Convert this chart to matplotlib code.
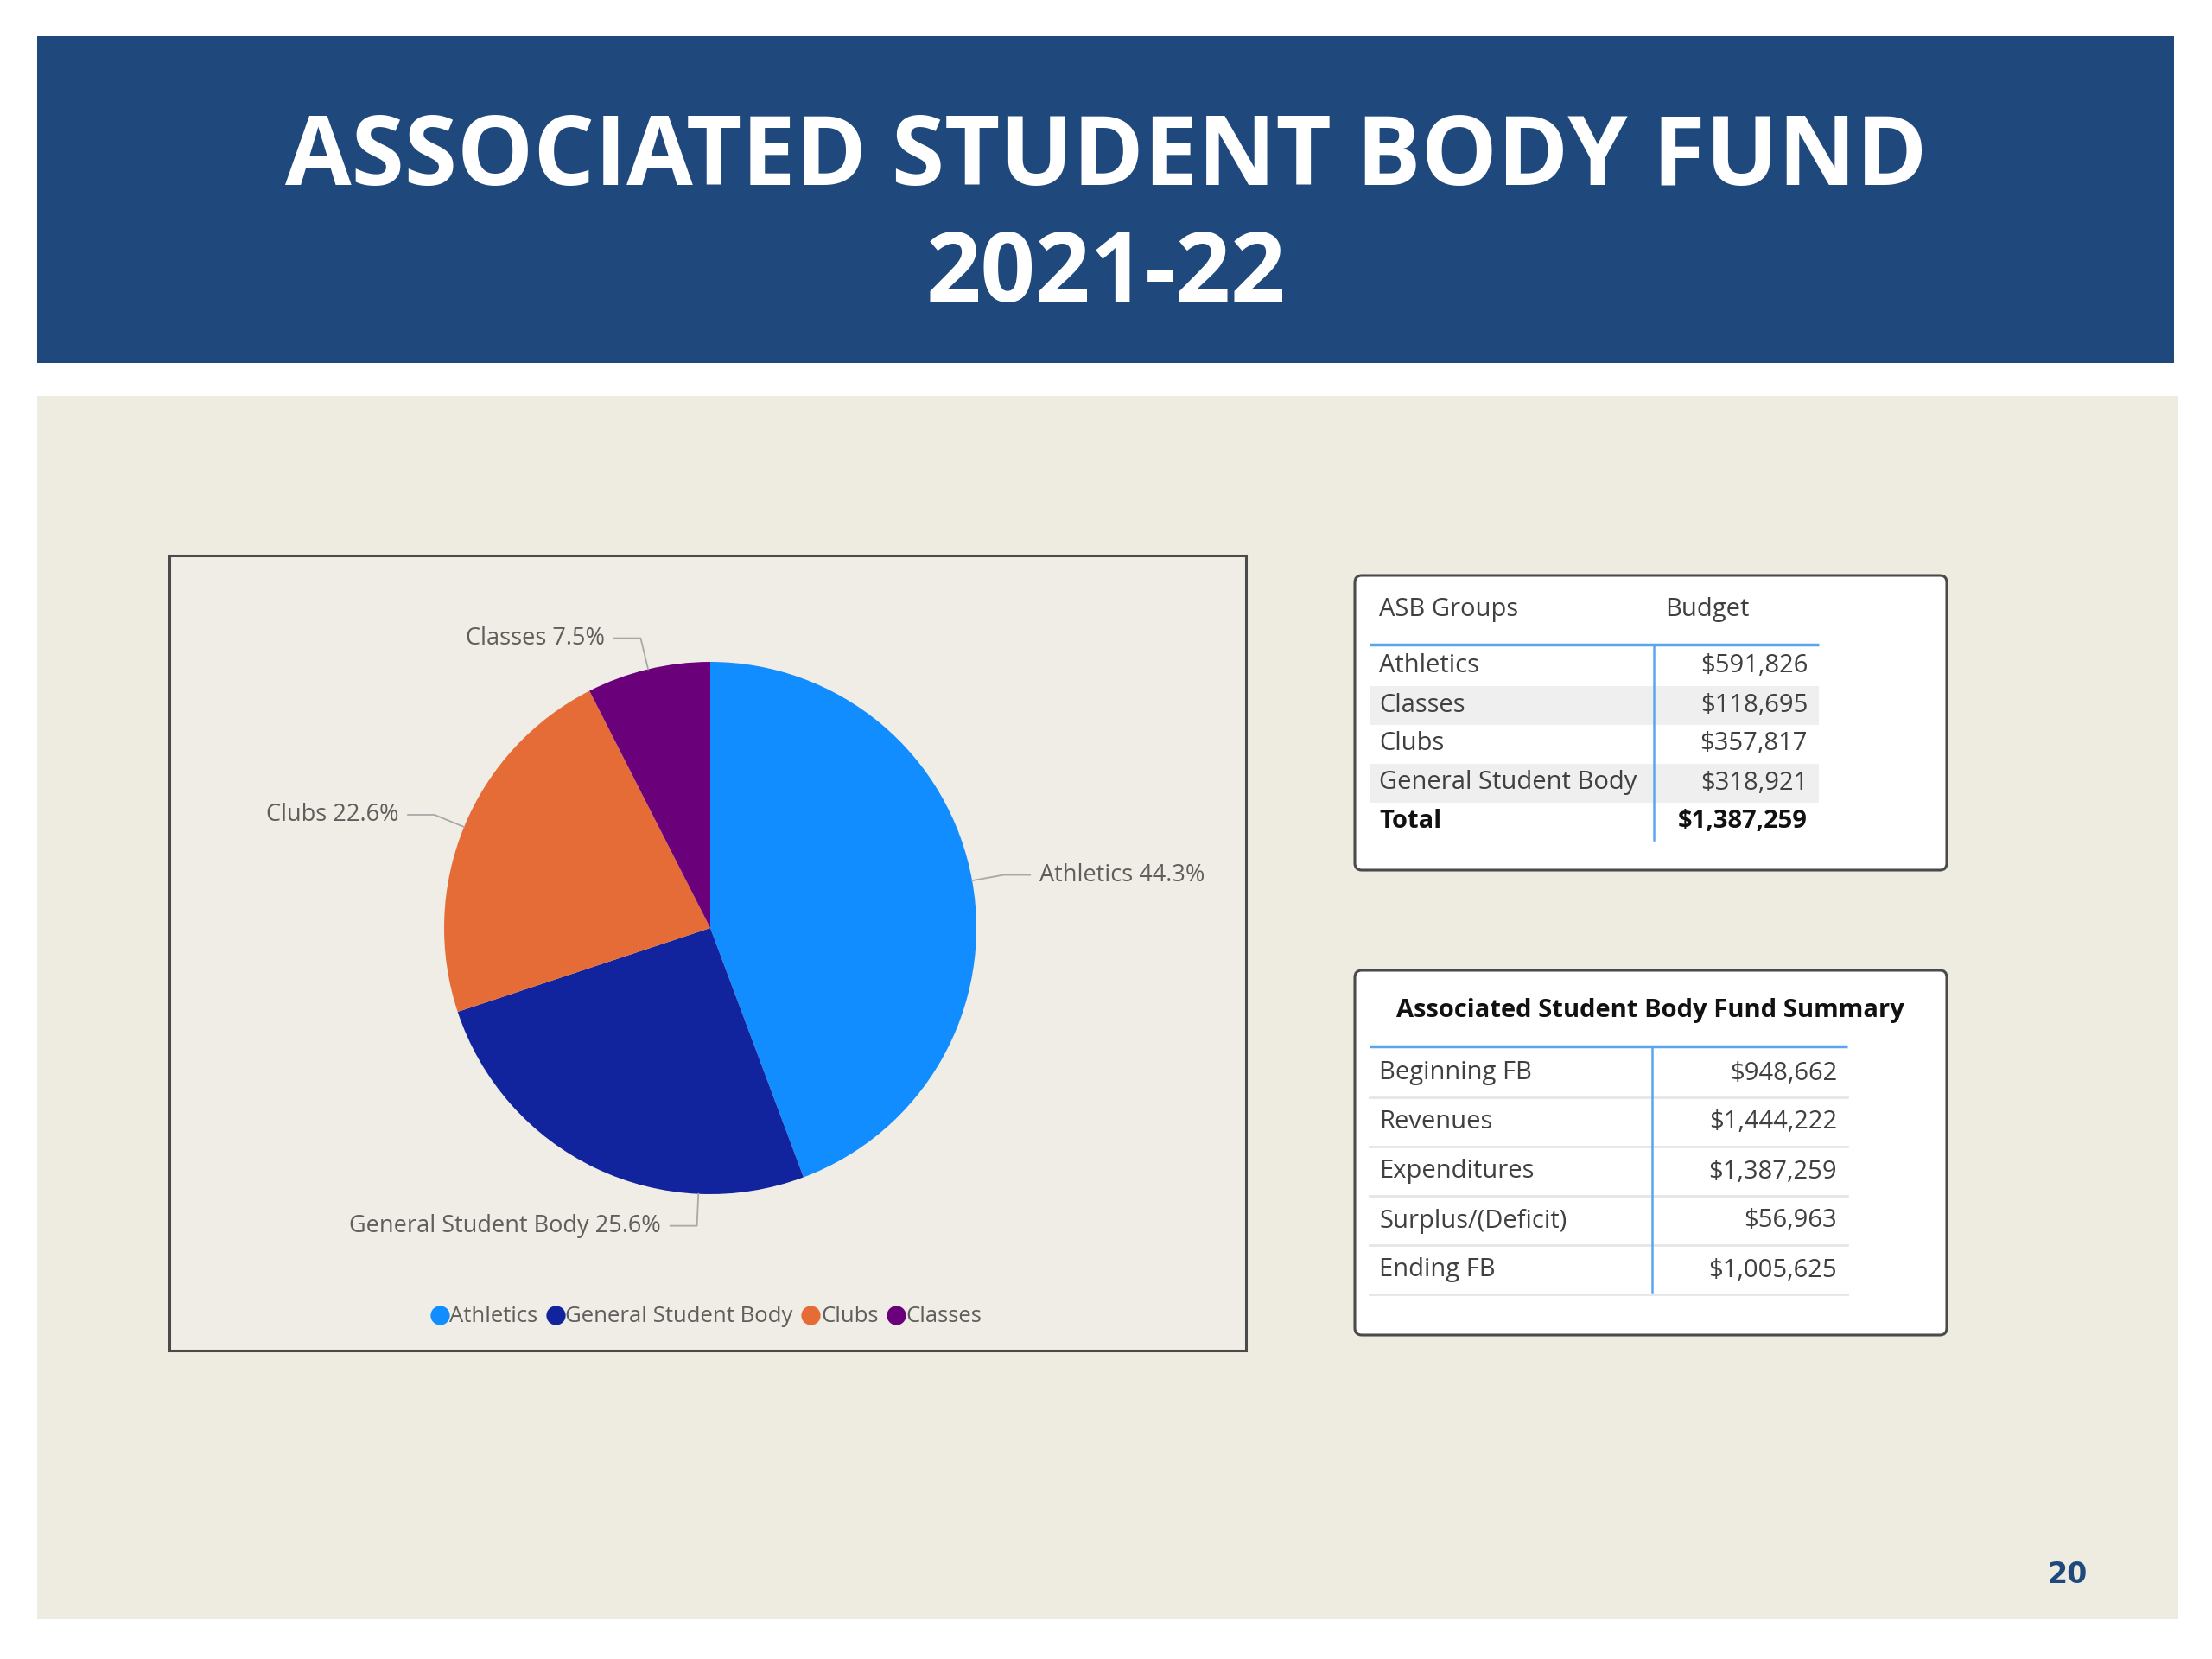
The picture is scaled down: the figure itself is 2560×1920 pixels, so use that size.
import numpy as np
import matplotlib
matplotlib.use("Agg")
from matplotlib import pyplot as plt
from matplotlib.patches import Rectangle, FancyBboxPatch
from matplotlib.lines import Line2D

plt.rcParams['font.family'] = ['Open Sans', 'DejaVu Sans']

# --- data ---
title_lines = ["ASSOCIATED STUDENT BODY FUND", "2021-22"]
pie_names = ["Athletics", "General Student Body", "Clubs", "Classes"]
pie_pcts = [44.3, 25.6, 22.6, 7.5]
pie_colors = ["#118DFF", "#12239E", "#E66C37", "#6B007B"]

asb_groups = ["Athletics", "Classes", "Clubs", "General Student Body"]
asb_budget = ["$591,826", "$118,695", "$357,817", "$318,921"]
asb_total = "$1,387,259"

summary_title = "Associated Student Body Fund Summary"
summary_items = ["Beginning FB", "Revenues", "Expenditures", "Surplus/(Deficit)", "Ending FB"]
summary_values = ["$948,662", "$1,444,222", "$1,387,259", "$56,963", "$1,005,625"]
page_no = "20"

NAVY = "#1F497D"
BEIGE = "#EEEBE0"
BLUE_LINE = "#5AA5F0"
GRAY_TXT = "#605E5C"
TBL_TXT = "#404040"

# leader anchor nudges (degrees) - the bottom label is pushed towards 6 o'clock
leader_shift = {"General Student Body": 23.0}

fig = plt.figure(figsize=(25.6, 19.2), dpi=100)
fig.patch.set_facecolor("white")

# background axes in pixel coordinates
ax = fig.add_axes([0, 0, 1, 1])
ax.set_xlim(0, 2560)
ax.set_ylim(1920, 0)
ax.axis("off")

# header band
ax.add_patch(Rectangle((43, 42), 2473, 378, fc=NAVY, ec="none"))
ax.text(1280, 185, title_lines[0], color="white", fontsize=80, fontweight="bold",
        ha="center", va="center")
ax.text(1280, 320, title_lines[1], color="white", fontsize=80, fontweight="bold",
        ha="center", va="center")

# beige content panel
ax.add_patch(Rectangle((43, 458), 2478, 1416, fc=BEIGE, ec="none"))

# pie frame
ax.add_patch(Rectangle((196, 643), 1246, 920, fc="#EFEDE5", ec="#4A4A4A", lw=2.2))

# --- table 1 ---
ax.add_patch(FancyBboxPatch((1568, 666), 685, 341, boxstyle="round,pad=0,rounding_size=8",
                            fc="white", ec="#4A4A4A", lw=2.2))
ax.text(1596, 706, "ASB Groups", fontsize=21, color=TBL_TXT, ha="left", va="center")
ax.text(1927, 706, "Budget", fontsize=21, color=TBL_TXT, ha="left", va="center")
row_y0, row_h = 771, 45
for i, (g, b) in enumerate(zip(asb_groups, asb_budget)):
    y = row_y0 + i * row_h
    if i % 2 == 1:
        ax.add_patch(Rectangle((1585, y - row_h / 2), 520, row_h, fc="#EFEFEF", ec="none"))
    ax.text(1596, y, g, fontsize=21, color=TBL_TXT, ha="left", va="center")
    ax.text(2092, y, b, fontsize=21, color=TBL_TXT, ha="right", va="center")
y = row_y0 + len(asb_groups) * row_h
ax.text(1596, y, "Total", fontsize=21, color="#111111", fontweight="bold", ha="left", va="center")
ax.text(2092, y, asb_total, fontsize=21, color="#111111", fontweight="bold", ha="right", va="center")
ax.plot([1585, 2105], [746, 746], color=BLUE_LINE, lw=2.5, solid_capstyle="butt")
ax.plot([1914, 1914], [746, 972], color=BLUE_LINE, lw=1.8)

# --- table 2 ---
ax.add_patch(FancyBboxPatch((1568, 1123), 685, 422, boxstyle="round,pad=0,rounding_size=8",
                            fc="white", ec="#4A4A4A", lw=2.2))
ax.text(1910, 1170, summary_title, fontsize=21, color="#111111", fontweight="bold",
        ha="center", va="center")
s_y0, s_h = 1242, 57
for i, (k, v) in enumerate(zip(summary_items, summary_values)):
    y = s_y0 + i * s_h
    ax.text(1596, y, k, fontsize=21, color=TBL_TXT, ha="left", va="center")
    ax.text(2126, y, v, fontsize=21, color=TBL_TXT, ha="right", va="center")
    ax.plot([1585, 2138], [y + 28, y + 28], color="#E6E6E6", lw=2)
ax.plot([1585, 2138], [1211, 1211], color=BLUE_LINE, lw=2.5, solid_capstyle="butt")
ax.plot([1912, 1912], [1211, 1495], color=BLUE_LINE, lw=1.8)

# page number
ax.text(2393, 1822, page_no, fontsize=24, color=NAVY, fontweight="bold", ha="center", va="center",
        family="DejaVu Sans")

# --- pie ---
cx, cy, R = 822, 1074, 462
pax = fig.add_axes([(cx - R) / 2560, (1920 - cy - R) / 1920, 2 * R / 2560, 2 * R / 1920])
wedges, _ = pax.pie(pie_pcts, colors=pie_colors, startangle=90, counterclock=False,
                    radius=1.0, wedgeprops=dict(linewidth=0))
# pie() resets the limits, so set them afterwards (radius 1 -> 308 px)
pax.set_xlim(-1.5, 1.5)
pax.set_ylim(-1.5, 1.5)
pax.axis("off")
for w, name, pct in zip(wedges, pie_names, pie_pcts):
    ang = np.deg2rad((w.theta1 + w.theta2) / 2 + leader_shift.get(name, 0.0))
    c, s = np.cos(ang), np.sin(ang)
    x1, y1 = 1.12 * c, 1.12 * s
    side = 1 if c >= 0 else -1
    x2 = x1 + side * 0.1
    pax.plot([c, x1, x2], [s, y1, y1], color="#A8A8A8", lw=1.3, clip_on=False)
    pax.text(x2 + side * 0.035, y1, f"{name} {pct:.1f}%", fontsize=19.5, color=GRAY_TXT,
             ha="left" if side > 0 else "right", va="center", clip_on=False)

# legend
handles = [Line2D([0], [0], marker="o", color="none", markerfacecolor=c, markeredgecolor="none",
                  markersize=16) for c in pie_colors]
fig.legend(handles, pie_names, loc="center", bbox_to_anchor=(818 / 2560, 1 - 1524 / 1920),
           ncol=4, frameon=False, fontsize=18.5, labelcolor=GRAY_TXT, handlelength=0.7,
           handletextpad=0.1, columnspacing=0.45, borderaxespad=0)

fig.savefig("out.png", dpi=100, facecolor=fig.get_facecolor())
